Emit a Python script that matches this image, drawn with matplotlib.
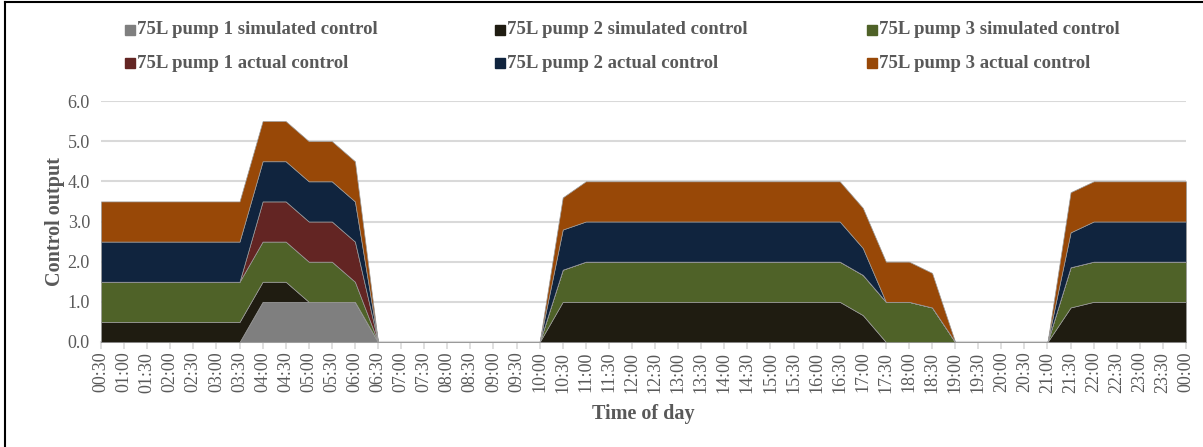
import matplotlib
matplotlib.use("Agg")
import matplotlib.pyplot as plt
from matplotlib.lines import Line2D
import matplotlib.patches as mpatches
import numpy as np

# half-hourly categories 00:30 .. 00:00
times = ["%02d:%02d" % (((i + 1) * 30 // 60) % 24, (i + 1) * 30 % 60) for i in range(48)]

# control outputs per series (stack order bottom -> top)
p1_sim = [0, 0, 0, 0, 0, 0, 0, 1, 1, 1, 1, 1, 0, 0, 0, 0, 0, 0, 0, 0,
          0, 0, 0, 0, 0, 0, 0, 0, 0, 0, 0, 0, 0, 0, 0, 0, 0, 0, 0, 0,
          0, 0, 0, 0, 0, 0, 0, 0]
p2_sim = [0.5, 0.5, 0.5, 0.5, 0.5, 0.5, 0.5, 0.5, 0.5, 0, 0, 0, 0, 0, 0, 0, 0, 0, 0, 0,
          1.0, 1, 1, 1, 1, 1, 1, 1, 1, 1, 1, 1, 1, 0.67, 0, 0, 0, 0, 0, 0,
          0, 0, 0.86, 1, 1, 1, 1, 1]
p3_sim = [1, 1, 1, 1, 1, 1, 1, 1, 1, 1, 1, 0.5, 0, 0, 0, 0, 0, 0, 0, 0,
          0.8, 1, 1, 1, 1, 1, 1, 1, 1, 1, 1, 1, 1, 1.0, 1, 1, 0.86, 0, 0, 0,
          0, 0, 1.0, 1, 1, 1, 1, 1]
p1_act = [0, 0, 0, 0, 0, 0, 0, 1, 1, 1, 1, 1, 0, 0, 0, 0, 0, 0, 0, 0,
          0, 0, 0, 0, 0, 0, 0, 0, 0, 0, 0, 0, 0, 0, 0, 0, 0, 0, 0, 0,
          0, 0, 0, 0, 0, 0, 0, 0]
p2_act = [1, 1, 1, 1, 1, 1, 1, 1, 1, 1, 1, 1, 0, 0, 0, 0, 0, 0, 0, 0,
          1.0, 1, 1, 1, 1, 1, 1, 1, 1, 1, 1, 1, 1, 0.67, 0, 0, 0, 0, 0, 0,
          0, 0, 0.87, 1, 1, 1, 1, 1]
p3_act = [1, 1, 1, 1, 1, 1, 1, 1, 1, 1, 1, 1, 0, 0, 0, 0, 0, 0, 0, 0,
          0.8, 1, 1, 1, 1, 1, 1, 1, 1, 1, 1, 1, 1, 1.0, 1, 1, 0.86, 0, 0, 0,
          0, 0, 1.0, 1, 1, 1, 1, 1]

labels = ["75L pump 1 simulated control", "75L pump 2 simulated control",
          "75L pump 3 simulated control", "75L pump 1 actual control",
          "75L pump 2 actual control", "75L pump 3 actual control"]
colors = ["#7f7f7f", "#1f1c11", "#4f6228", "#632523", "#10243e", "#984807"]

TXT = "#595959"
plt.rcParams["font.family"] = ["Liberation Serif", "DejaVu Serif"]

W, H = 1203, 447
fig = plt.figure(figsize=(W / 100, H / 100), dpi=100)
ax = fig.add_axes([101 / W, 1 - 342 / H, (1186 - 101) / W, (342 - 101) / H])

x = np.arange(len(times))
ax.stackplot(x, p1_sim, p2_sim, p3_sim, p1_act, p2_act, p3_act,
             colors=colors, edgecolor="#9a9a9a", linewidth=0.5, zorder=3)

ax.set_xlim(0, len(times) - 1)
ax.set_ylim(0, 6)
ax.set_yticks(np.arange(0, 6.01, 1.0))
ax.set_yticklabels(["%.1f" % v for v in np.arange(0, 6.01, 1.0)], fontsize=13, color=TXT)
ax.set_xticks(x)
ax.set_xticklabels(times, rotation=90, fontsize=13, color=TXT)
ax.grid(axis="y", color="#d9d9d9", linewidth=1.5, zorder=0)
ax.set_axisbelow(True)
for s in ["left", "right", "top"]:
    ax.spines[s].set_visible(False)
ax.spines["bottom"].set_color("#d9d9d9")
ax.spines["bottom"].set_linewidth(1.5)
ax.spines["bottom"].set_zorder(2)
ax.tick_params(axis="y", length=0, pad=8)
ax.tick_params(axis="x", length=5, color="#d9d9d9", width=1.2, pad=2)

ax.set_ylabel("Control output", fontsize=14.5, fontweight="bold", color=TXT, labelpad=2)
ax.set_xlabel("Time of day", fontsize=14.5, fontweight="bold", color=TXT, labelpad=8)

# legend drawn by hand: 2 rows x 3 columns, pump 1/2/3 across, simulated over actual
col_x = [137, 507, 879]
row_y = [30, 63]
for i, (c, lab) in enumerate(zip(colors, labels)):
    tx = col_x[i % 3]
    cy = row_y[i // 3]
    fig.add_artist(mpatches.Rectangle(((tx - 12) / W, 1 - (cy + 5) / H), 10 / W, 10 / H,
                                      transform=fig.transFigure, color=c))
    fig.text(tx / W, 1 - cy / H, lab, fontsize=13.5, fontweight="bold",
             color=TXT, ha="left", va="center")

# chart frame (left and top edges visible)
fig.add_artist(Line2D([5 / W, 5 / W], [0, 1 - 2 / H], color="black", linewidth=1.5))
fig.add_artist(Line2D([5 / W, 1], [1 - 2 / H, 1 - 2 / H], color="black", linewidth=1.5))

fig.savefig("out.png", dpi=100)
